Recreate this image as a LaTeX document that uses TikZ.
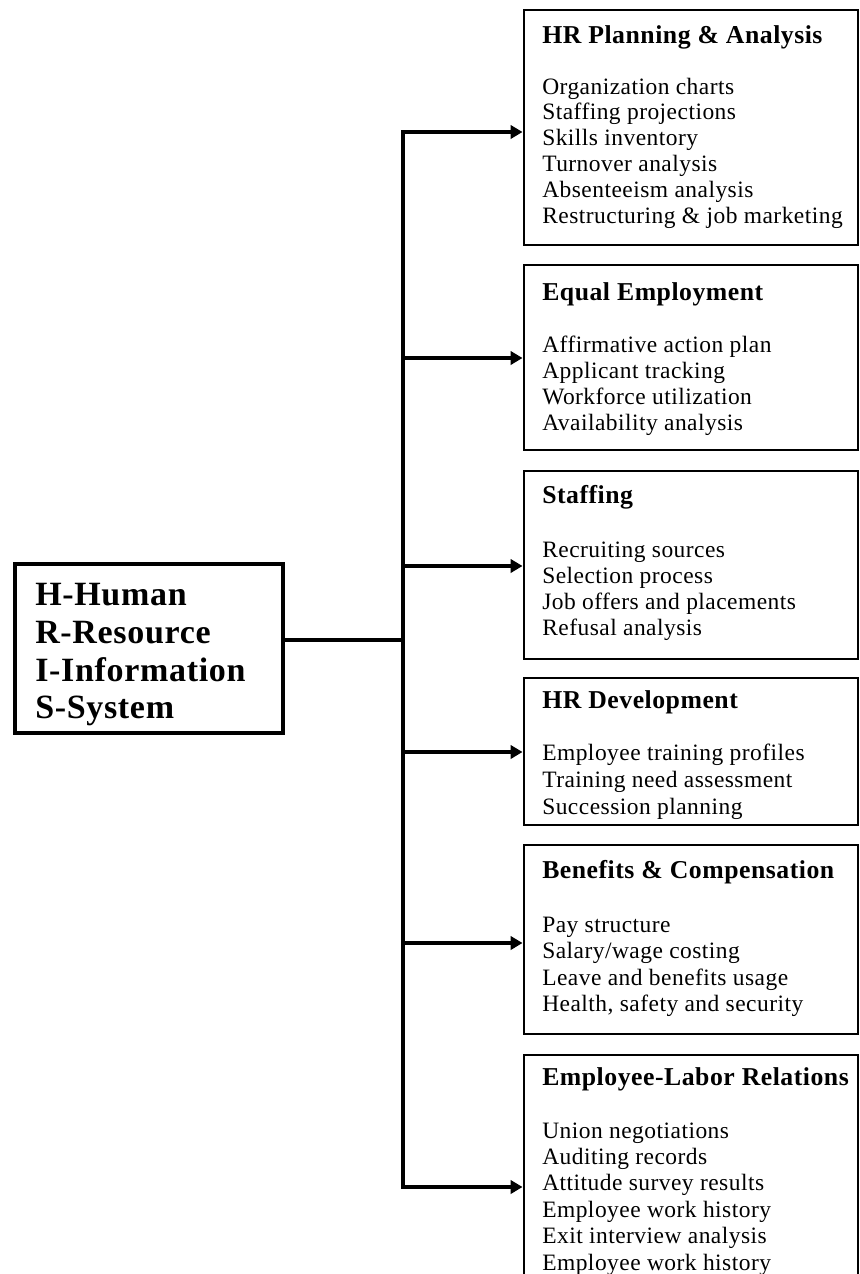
\documentclass[tikz,border=0pt]{standalone}
\usepackage{fontspec}
\setmainfont{Liberation Serif}[LetterSpace=2]
\usetikzlibrary{fit,arrows.meta}
\begin{document}
\begin{tikzpicture}[x=0.75pt,y=-0.75pt,
  boxst/.style={draw, line width=2.2pt, inner sep=0pt},
  ttl/.style={anchor=base west, inner sep=0pt, font=\fontsize{19.3}{21}\selectfont\bfseries},
  itm/.style={anchor=base west, inner sep=0pt, font=\fontsize{17.6}{19}\selectfont},
  big/.style={anchor=base west, inner sep=0pt, font=\fontsize{25.5}{28}\selectfont\bfseries},
  arr/.style={line width=3pt, -{Triangle[length=9pt,width=10pt]}},
  trunkst/.style={line width=2.6pt, line cap=rect}]
\useasboundingbox (0,0) rectangle (860,1274);
\clip (0,0) rectangle (860,1274);

% left box
\node[draw, line width=3pt, inner sep=0pt, fit={(15,564) (283,733)}] (hris) {};
\node[big] (h1) at (35,605) {H-Human};
\node[big] (h2) at (35,643) {R-Resource};
\node[big] (h3) at (35,681) {I-Information};
\node[big] (h4) at (35,718) {S-System};

% right boxes
\node[boxst, fit={(524,10) (858,245)}] (box1) {};
\node[boxst, fit={(524,265) (858,450)}] (box2) {};
\node[boxst, fit={(524,471) (858,659)}] (box3) {};
\node[boxst, fit={(524,678) (858,825)}] (box4) {};
\node[boxst, fit={(524,845) (858,1034)}] (box5) {};
\node[boxst, fit={(524,1055) (858,1319)}] (box6) {};

% connectors
\coordinate (jn) at (403,640);
\coordinate (a1) at (403,132);
\coordinate (a2) at (403,358);
\coordinate (a3) at (403,566);
\coordinate (a4) at (403,752);
\coordinate (a5) at (403,943);
\coordinate (a6) at (403,1187);
\draw[trunkst] (a1) -- (a6);
\draw[line width=3.6pt] (hris.east |- jn) -- (jn);
\foreach \k in {1,...,6} \draw[arr] (a\k) -- (a\k -| box\k.west);

% box 1
\node[ttl] (t1) at (542,43) {HR Planning \& Analysis};
\foreach \t [count=\i from 0] in {Organization charts, Staffing projections, Skills inventory, Turnover analysis, Absenteeism analysis, Restructuring \& job marketing}
  \node[itm] (pa\i) at (542,94+25.8*\i) {\t};

% box 2
\node[ttl] (t2) at (542,300) {Equal Employment};
\foreach \t [count=\i from 0] in {Affirmative action plan, Applicant tracking, Workforce utilization, Availability analysis}
  \node[itm] (eq\i) at (542,352+26*\i) {\t};

% box 3
\node[ttl] (t3) at (542,503) {Staffing};
\foreach \t [count=\i from 0] in {Recruiting sources, Selection process, Job offers and placements, Refusal analysis}
  \node[itm] (st\i) at (542,557+26*\i) {\t};

% box 4
\node[ttl] (t4) at (542,708) {HR Development};
\foreach \t [count=\i from 0] in {Employee training profiles, Training need assessment, Succession planning}
  \node[itm] (dv\i) at (542,760+27*\i) {\t};

% box 5
\node[ttl] (t5) at (542,878) {Benefits \& Compensation};
\foreach \t [count=\i from 0] in {Pay structure, Salary/wage costing, Leave and benefits usage, {Health, safety and security}}
  \node[itm] (bc\i) at (542,932+26.6*\i) {\t};

% box 6
\node[ttl] (t6) at (542,1085) {Employee-Labor Relations};
\foreach \t [count=\i from 0] in {Union negotiations, Auditing records, Attitude survey results, Employee work history, Exit interview analysis, Employee work history}
  \node[itm] (lr\i) at (542,1138+26.4*\i) {\t};
\end{tikzpicture}
\end{document}
